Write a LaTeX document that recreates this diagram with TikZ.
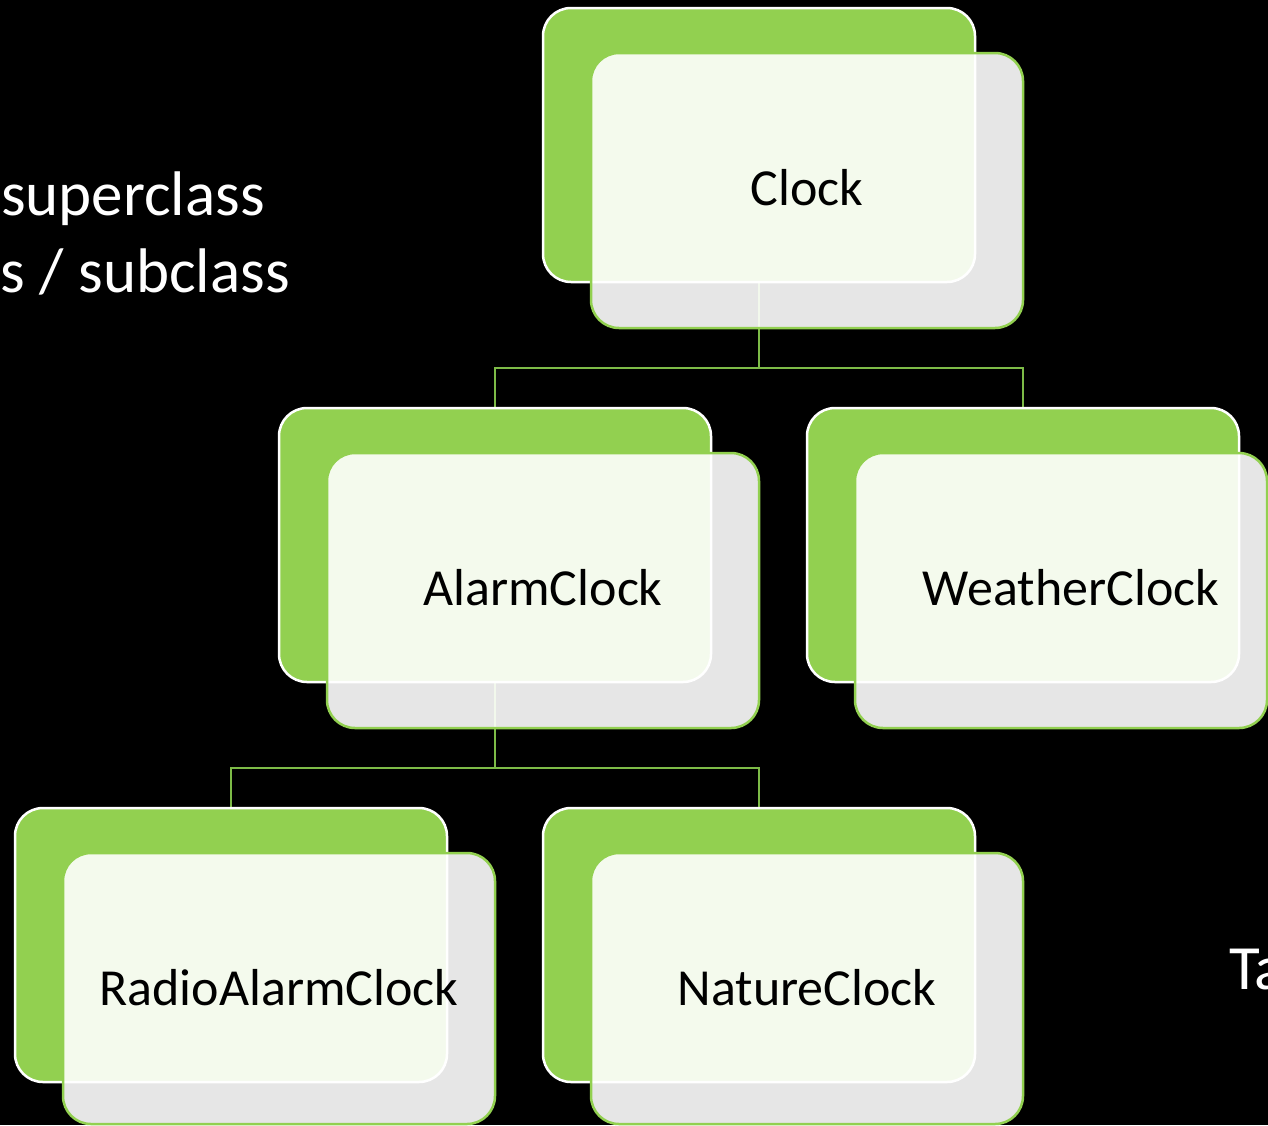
\documentclass[tikz,border=0pt]{standalone}
\usepackage{fontspec}
\setmainfont{Carlito}
\definecolor{leaf}{HTML}{92D050}
\definecolor{linkgreen}{HTML}{7DBB47}
\begin{document}
\begin{tikzpicture}[x=1pt,y=-1pt,
  greenbox/.style={draw=white,line width=2.5pt,fill=leaf,rounded corners=28pt,
    minimum width=432pt,minimum height=274pt,inner sep=0pt},
  frontbox/.style={draw=leaf,line width=2.5pt,fill=white,fill opacity=0.9,
    rounded corners=28pt,minimum width=432pt,minimum height=275pt,inner sep=0pt},
  boxtext/.style={anchor=base,font=\fontsize{52}{60}\selectfont,text=black,inner sep=0pt},
  sidetext/.style={font=\fontsize{63}{70}\selectfont,text=white,inner sep=0pt},
  conn/.style={draw=linkgreen,line width=2pt}]
\useasboundingbox (0,0) rectangle (1268,1125);
\fill[black] (0,0) rectangle (1268,1125);
\clip (0,0) rectangle (1268,1125);

% side texts (cut by the picture edge)
\node[sidetext,anchor=base east] (sup) at (265,215) {superclass};
\node[sidetext,anchor=base east] (sub) at (290,292) {s / subclass};
\node[sidetext,anchor=base west] (ta) at (1229,989) {Ta};

% back (green) boxes positions as coordinates for connectors
\coordinate (clockC) at (759,145);
\coordinate (alarmC) at (495,545);
\coordinate (weatherC) at (1023,545);
\coordinate (radioC) at (231,945);
\coordinate (natureC) at (759,945);

% connectors (behind everything)
\coordinate (clockS) at (759,282);
\coordinate (alarmN) at (495,408);
\coordinate (weatherN) at (1023,408);
\coordinate (alarmS) at (495,682);
\coordinate (radioN) at (231,808);
\coordinate (natureN) at (759,808);
\draw[conn] (clockS) -- ++(0,86) -| (alarmN);
\draw[conn] (clockS) -- ++(0,86) -| (weatherN);
\draw[conn] (alarmS) -- ++(0,86) -| (radioN);
\draw[conn] (alarmS) -- ++(0,86) -| (natureN);

% Clock
\node[greenbox] (clockG) at (clockC) {};
\node[frontbox] (clockF) at (807,190.5) {};
\node[boxtext] (clockT) at (807,205) {Clock};

% AlarmClock
\node[greenbox] (alarmG) at (alarmC) {};
\node[frontbox] (alarmF) at (543,590.5) {};
\node[boxtext] (alarmT) at (543,605) {AlarmClock};

% WeatherClock
\node[greenbox] (weatherG) at (weatherC) {};
\node[frontbox,minimum width=412pt] (weatherF) at (1061,590.5) {};
\node[boxtext] (weatherT) at (1071,605) {WeatherClock};

% RadioAlarmClock
\node[greenbox] (radioG) at (radioC) {};
\node[frontbox,minimum height=271pt] (radioF) at (279,988.5) {};
\node[boxtext] (radioT) at (279,1005) {RadioAlarmClock};

% NatureClock
\node[greenbox] (natureG) at (natureC) {};
\node[frontbox,minimum height=271pt] (natureF) at (807,988.5) {};
\node[boxtext] (natureT) at (807,1005) {NatureClock};
\end{tikzpicture}
\end{document}
